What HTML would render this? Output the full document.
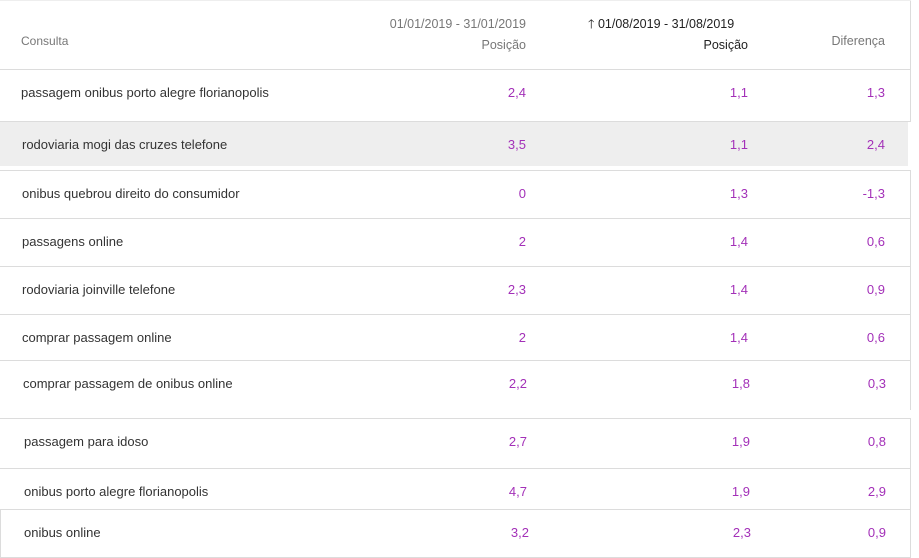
<!DOCTYPE html>
<html><head><meta charset="utf-8"><style>
body{margin:0;width:919px;height:558px;background:#fff;position:relative;overflow:hidden;font-family:"Liberation Sans",sans-serif;font-size:13px;color:#333}
.t{position:absolute;white-space:nowrap;line-height:14px;margin-top:1px}
.l{left:21px}
.n{color:#a330b8;text-align:right;width:80px}
.h{position:absolute;height:1px;background:#dcdcdc}
.v{position:absolute;width:1px;background:#dcdcdc}
.hd{font-size:12.5px}
</style></head><body>
<div class="v" style="left:910px;top:0;height:70px"></div>
<div class="h" style="left:0;top:0;width:911px;background:#eee"></div>
<div class="t hd" style="left:21px;top:33px;color:#777;font-size:12px">Consulta</div>
<div class="t hd" style="left:326px;top:16px;width:200px;text-align:right;color:#777">01/01/2019 - 31/01/2019</div>
<div class="t hd" style="left:426px;top:37px;width:100px;text-align:right;color:#777">Posição</div>
<div class="t hd" style="left:588px;top:16px;color:#222">🡑 01/08/2019 - 31/08/2019</div>
<div class="t hd" style="left:648px;top:37px;width:100px;text-align:right;color:#222">Posição</div>
<div class="t hd" style="left:785px;top:33px;width:100px;text-align:right;color:#777">Diferença</div>
<div class="h" style="left:0;top:69px;width:911px"></div>
<div style="position:absolute;left:0;top:122px;width:908px;height:44px;background:#eee"></div>
<div class="v" style="left:910px;top:70px;height:52px"></div>
<div class="h" style="left:0;top:121px;width:911px"></div>
<div class="v" style="left:910px;top:170px;height:240px"></div>
<div class="h" style="left:0;top:170px;width:911px"></div>
<div class="h" style="left:0;top:218px;width:911px"></div>
<div class="h" style="left:0;top:266px;width:911px"></div>
<div class="h" style="left:0;top:314px;width:911px"></div>
<div class="h" style="left:0;top:360px;width:911px"></div>
<div class="h" style="left:0;top:418px;width:911px"></div>
<div class="v" style="left:910px;top:419px;height:90px"></div>
<div class="h" style="left:0;top:468px;width:911px"></div>
<div class="h" style="left:0;top:509px;width:911px"></div>
<div class="v" style="left:0;top:509px;height:48px"></div>
<div class="v" style="left:910px;top:509px;height:48px"></div>
<div class="h" style="left:0;top:557px;width:911px"></div>

<div class="t l" style="top:85px">passagem onibus porto alegre florianopolis</div>
<div class="t n" style="left:446px;top:85px">2,4</div><div class="t n" style="left:668px;top:85px">1,1</div><div class="t n" style="left:805px;top:85px">1,3</div>
<div class="t l" style="top:137px;left:22px">rodoviaria mogi das cruzes telefone</div>
<div class="t n" style="left:446px;top:137px">3,5</div><div class="t n" style="left:668px;top:137px">1,1</div><div class="t n" style="left:805px;top:137px">2,4</div>
<div class="t l" style="top:186px;left:22px">onibus quebrou direito do consumidor</div>
<div class="t n" style="left:446px;top:186px">0</div><div class="t n" style="left:668px;top:186px">1,3</div><div class="t n" style="left:805px;top:186px">-1,3</div>
<div class="t l" style="top:234px;left:22px">passagens online</div>
<div class="t n" style="left:446px;top:234px">2</div><div class="t n" style="left:668px;top:234px">1,4</div><div class="t n" style="left:805px;top:234px">0,6</div>
<div class="t l" style="top:282px;left:22px">rodoviaria joinville telefone</div>
<div class="t n" style="left:446px;top:282px">2,3</div><div class="t n" style="left:668px;top:282px">1,4</div><div class="t n" style="left:805px;top:282px">0,9</div>
<div class="t l" style="top:330px;left:22px">comprar passagem online</div>
<div class="t n" style="left:446px;top:330px">2</div><div class="t n" style="left:668px;top:330px">1,4</div><div class="t n" style="left:805px;top:330px">0,6</div>
<div class="t l" style="top:376px;left:23px">comprar passagem de onibus online</div>
<div class="t n" style="left:447px;top:376px">2,2</div><div class="t n" style="left:670px;top:376px">1,8</div><div class="t n" style="left:806px;top:376px">0,3</div>
<div class="t l" style="top:434px;left:24px">passagem para idoso</div>
<div class="t n" style="left:447px;top:434px">2,7</div><div class="t n" style="left:670px;top:434px">1,9</div><div class="t n" style="left:806px;top:434px">0,8</div>
<div class="t l" style="top:484px;left:24px">onibus porto alegre florianopolis</div>
<div class="t n" style="left:447px;top:484px">4,7</div><div class="t n" style="left:670px;top:484px">1,9</div><div class="t n" style="left:806px;top:484px">2,9</div>
<div class="t l" style="top:525px;left:24px">onibus online</div>
<div class="t n" style="left:449px;top:525px">3,2</div><div class="t n" style="left:671px;top:525px">2,3</div><div class="t n" style="left:806px;top:525px">0,9</div>
</body></html>
